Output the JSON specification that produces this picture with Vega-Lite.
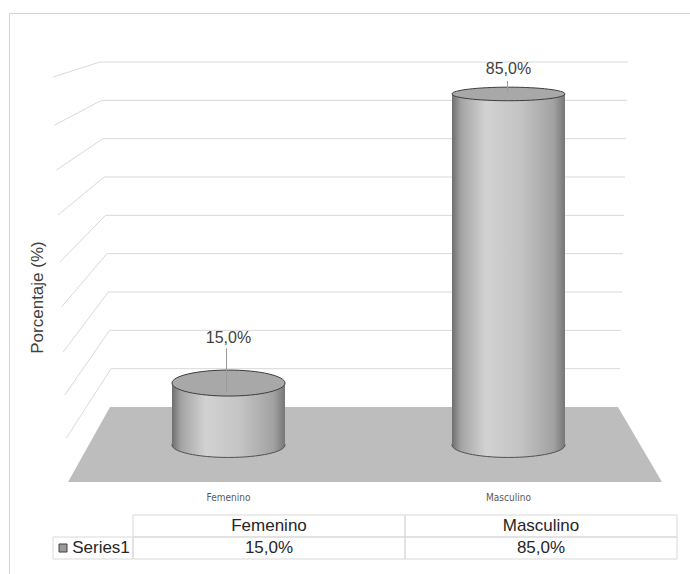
{
  "$schema": "https://vega.github.io/schema/vega-lite/v6.json",
  "width": 681,
  "height": 561,
  "autosize": {"type": "none"},
  "padding": {"left": 9, "top": 13, "right": 0, "bottom": 0},
  "background": "white",
  "config": {
    "view": {"stroke": "#d4d4d4"},
    "font": "Liberation Sans",
    "locale": {"number": {"decimal": ",", "thousands": ".", "grouping": [3], "currency": ["", " €"]}}
  },
  "datasets": {
    "main": [
      {"cat": "Femenino", "value": 0.15},
      {"cat": "Masculino", "value": 0.85}
    ],
    "grid": [
      {"x": 0.5446, "x2": 2.4304, "y": 0.9, "y2": 0.9},
      {"x": 0.3768, "x2": 0.5446, "y": 0.8609, "y2": 0.9},
      {"x": 0.5496, "x2": 2.4268, "y": 0.8, "y2": 0.8},
      {"x": 0.3832, "x2": 0.5496, "y": 0.7357, "y2": 0.8},
      {"x": 0.5546, "x2": 2.4232, "y": 0.7, "y2": 0.7},
      {"x": 0.3889, "x2": 0.5546, "y": 0.6183, "y2": 0.7},
      {"x": 0.5593, "x2": 2.4196, "y": 0.6, "y2": 0.6},
      {"x": 0.3950, "x2": 0.5593, "y": 0.5009, "y2": 0.6},
      {"x": 0.5643, "x2": 2.4161, "y": 0.5, "y2": 0.5},
      {"x": 0.4014, "x2": 0.5643, "y": 0.3783, "y2": 0.5},
      {"x": 0.5693, "x2": 2.4125, "y": 0.4, "y2": 0.4},
      {"x": 0.4071, "x2": 0.5693, "y": 0.2609, "y2": 0.4},
      {"x": 0.5743, "x2": 2.4089, "y": 0.3, "y2": 0.3},
      {"x": 0.4132, "x2": 0.5743, "y": 0.1435, "y2": 0.3},
      {"x": 0.5789, "x2": 2.4054, "y": 0.2, "y2": 0.2},
      {"x": 0.4189, "x2": 0.5789, "y": 0.0313, "y2": 0.2},
      {"x": 0.5839, "x2": 2.4018, "y": 0.1, "y2": 0.1},
      {"x": 0.4246, "x2": 0.5839, "y": -0.0809, "y2": 0.1}
    ],
    "floor": [
      {"x": 0.4304, "y": -0.1957, "y2": -0.1957},
      {"x": 0.5804, "y": 0, "y2": -0.1957},
      {"x": 2.3946, "y": 0, "y2": -0.1957},
      {"x": 2.5518, "y": -0.1957, "y2": -0.1957}
    ]
  },
  "resolve": {"scale": {"x": "independent", "y": "independent", "shape": "independent"}, "axis": {"x": "independent", "y": "independent"}},
  "layer": [
    {
      "data": {"name": "grid"},
      "mark": {"type": "rule", "color": "#d9d9d9", "strokeWidth": 1},
      "encoding": {
        "x": {"field": "x", "type": "quantitative", "scale": {"domain": [0.2196, 2.6518], "nice": false, "zero": false}, "axis": null},
        "x2": {"field": "x2"},
        "y": {"field": "y", "type": "quantitative", "scale": {"domain": [-0.4357, 1.0279], "nice": false, "zero": false},
          "axis": {"orient": "left", "title": "Porcentaje (%)", "labels": false, "ticks": false, "domain": true, "domainOpacity": 0, "grid": false,
            "titleX": 28, "titleY": 284, "titleAngle": -90, "titleBaseline": "middle", "titleAlign": "center",
            "titleFontSize": 17, "titleFontWeight": "normal", "titleColor": "#404040", "titleFont": "Liberation Sans"}},
        "y2": {"field": "y2"}
      }
    },
    {
      "data": {"name": "floor"},
      "mark": {"type": "area", "color": "#bdbdbd", "opacity": 1},
      "encoding": {
        "x": {"field": "x", "type": "quantitative", "scale": {"domain": [0.2196, 2.6518], "nice": false, "zero": false}, "axis": null},
        "y": {"field": "y", "type": "quantitative", "scale": {"domain": [-0.4357, 1.0279], "nice": false, "zero": false}, "axis": null},
        "y2": {"field": "y2"}
      }
    },
    {
      "data": {"name": "main"},
      "mark": {"type": "point", "shape": "M -1 0 C -1 -0.1215 -0.5523 -0.22 0 -0.22 C 0.5523 -0.22 1 -0.1215 1 0 C 1 0.1215 0.5523 0.22 0 0.22 C -0.5523 0.22 -1 0.1215 -1 0 Z",
        "size": 12769, "filled": true, "opacity": 1, "stroke": "#505050", "strokeWidth": 1,
        "fill": {"gradient": "linear", "x1": 0, "y1": 0, "x2": 1, "y2": 0,
          "stops": [{"offset": 0, "color": "#6e6e6e"}, {"offset": 0.08, "color": "#a4a4a4"}, {"offset": 0.3, "color": "#d2d2d2"}, {"offset": 0.6, "color": "#c4c4c4"}, {"offset": 0.9, "color": "#a2a2a2"}, {"offset": 1, "color": "#767676"}]}},
      "encoding": {
        "x": {"field": "cat", "type": "nominal",
          "scale": {"type": "band", "domain": ["Femenino", "Masculino"], "range": [163, 556], "paddingInner": 0.5964, "paddingOuter": 0},
          "axis": {"title": null, "orient": "bottom", "offset": -77, "domain": false, "ticks": false, "tickSize": 0, "grid": false,
            "labelPadding": 0, "labelBaseline": "middle", "labelAngle": 0, "labelFont": "'Liberation Sans Narrow', 'DejaVu Sans Condensed', 'Liberation Sans', sans-serif", "labelFontSize": 10, "labelColor": "#595959"}},
        "y": {"datum": 0, "type": "quantitative", "scale": {"domain": [-0.3123, 1.046], "nice": false, "zero": false}, "axis": null}
      }
    },
    {
      "data": {"name": "main"},
      "mark": {"type": "bar", "opacity": 1,
        "fill": {"gradient": "linear", "x1": 0, "y1": 0, "x2": 1, "y2": 0,
          "stops": [{"offset": 0, "color": "#6e6e6e"}, {"offset": 0.08, "color": "#a4a4a4"}, {"offset": 0.3, "color": "#d2d2d2"}, {"offset": 0.6, "color": "#c4c4c4"}, {"offset": 0.9, "color": "#a2a2a2"}, {"offset": 1, "color": "#767676"}]}},
      "encoding": {
        "x": {"field": "cat", "type": "nominal", "scale": {"type": "band", "domain": ["Femenino", "Masculino"], "range": [163, 556], "paddingInner": 0.5964, "paddingOuter": 0}, "axis": null},
        "y": {"field": "value", "type": "quantitative", "scale": {"domain": [-0.3123, 1.046], "nice": false, "zero": false}, "axis": null},
        "y2": {"datum": 0}
      }
    },
    {
      "data": {"name": "main"},
      "mark": {"type": "point", "size": 12769, "filled": true, "opacity": 1, "fill": "#a8a8a8", "stroke": "#3c3c3c", "strokeWidth": 1},
      "encoding": {
        "x": {"field": "cat", "type": "nominal", "scale": {"type": "band", "domain": ["Femenino", "Masculino"], "range": [163, 556], "paddingInner": 0.5964, "paddingOuter": 0}, "axis": null},
        "y": {"field": "value", "type": "quantitative", "scale": {"domain": [-0.3123, 1.046], "nice": false, "zero": false}, "axis": null},
        "shape": {"field": "cat", "type": "nominal", "legend": null,
          "scale": {"domain": ["Femenino", "Masculino"], "range": [
            "M -1 0 C -1 -0.127 -0.5523 -0.23 0 -0.23 C 0.5523 -0.23 1 -0.127 1 0 C 1 0.127 0.5523 0.23 0 0.23 C -0.5523 0.23 -1 0.127 -1 0 Z",
            "M -1 0 C -1 -0.0663 -0.5523 -0.12 0 -0.12 C 0.5523 -0.12 1 -0.0663 1 0 C 1 0.0663 0.5523 0.12 0 0.12 C -0.5523 0.12 -1 0.0663 -1 0 Z"]}}
      }
    },
    {
      "data": {"name": "main"},
      "transform": [{"filter": "datum.cat == 'Femenino'"}],
      "mark": {"type": "rule", "color": "#9a9a9a", "strokeWidth": 1, "yOffset": -35, "y2Offset": 9, "xOffset": -2},
      "encoding": {
        "x": {"field": "cat", "type": "nominal", "scale": {"type": "band", "domain": ["Femenino", "Masculino"], "range": [163, 556], "paddingInner": 0.5964, "paddingOuter": 0}, "axis": null},
        "y": {"field": "value", "type": "quantitative", "scale": {"domain": [-0.3123, 1.046], "nice": false, "zero": false}, "axis": null},
        "y2": {"field": "value"}
      }
    },
    {
      "data": {"name": "main"},
      "transform": [{"filter": "datum.cat == 'Femenino'"}],
      "mark": {"type": "text", "fontSize": 16, "color": "#404040", "baseline": "middle", "dy": -45},
      "encoding": {
        "x": {"field": "cat", "type": "nominal", "scale": {"type": "band", "domain": ["Femenino", "Masculino"], "range": [163, 556], "paddingInner": 0.5964, "paddingOuter": 0}, "axis": null},
        "y": {"field": "value", "type": "quantitative", "scale": {"domain": [-0.3123, 1.046], "nice": false, "zero": false}, "axis": null},
        "text": {"field": "value", "type": "quantitative", "format": ".1%"}
      }
    },
    {
      "data": {"name": "main"},
      "transform": [{"filter": "datum.cat == 'Masculino'"}],
      "mark": {"type": "rule", "color": "#9a9a9a", "strokeWidth": 1, "yOffset": -13, "y2Offset": -2, "xOffset": -1},
      "encoding": {
        "x": {"field": "cat", "type": "nominal", "scale": {"type": "band", "domain": ["Femenino", "Masculino"], "range": [163, 556], "paddingInner": 0.5964, "paddingOuter": 0}, "axis": null},
        "y": {"field": "value", "type": "quantitative", "scale": {"domain": [-0.3123, 1.046], "nice": false, "zero": false}, "axis": null},
        "y2": {"field": "value"}
      }
    },
    {
      "data": {"name": "main"},
      "transform": [{"filter": "datum.cat == 'Masculino'"}],
      "mark": {"type": "text", "fontSize": 16, "color": "#404040", "baseline": "middle", "dy": -25},
      "encoding": {
        "x": {"field": "cat", "type": "nominal", "scale": {"type": "band", "domain": ["Femenino", "Masculino"], "range": [163, 556], "paddingInner": 0.5964, "paddingOuter": 0}, "axis": null},
        "y": {"field": "value", "type": "quantitative", "scale": {"domain": [-0.3123, 1.046], "nice": false, "zero": false}, "axis": null},
        "text": {"field": "value", "type": "quantitative", "format": ".1%"}
      }
    },
    {
      "data": {"name": "main"},
      "mark": {"type": "rect", "fill": "transparent", "stroke": "#d9d9d9", "strokeWidth": 1},
      "encoding": {
        "x": {"field": "cat", "type": "nominal", "scale": {"type": "band", "domain": ["Femenino", "Masculino"], "range": [124, 668], "paddingInner": 0, "paddingOuter": 0}, "axis": null},
        "y": {"datum": "header", "type": "nominal", "scale": {"type": "band", "domain": ["header", "values"], "range": [502, 546], "paddingInner": 0, "paddingOuter": 0}, "axis": null}
      }
    },
    {
      "data": {"name": "main"},
      "mark": {"type": "rect", "fill": "transparent", "stroke": "#d9d9d9", "strokeWidth": 1},
      "encoding": {
        "x": {"field": "cat", "type": "nominal", "scale": {"type": "band", "domain": ["Femenino", "Masculino"], "range": [124, 668], "paddingInner": 0, "paddingOuter": 0}, "axis": null},
        "y": {"datum": "values", "type": "nominal", "scale": {"type": "band", "domain": ["header", "values"], "range": [502, 546], "paddingInner": 0, "paddingOuter": 0}, "axis": null}
      }
    },
    {
      "data": {"name": "main"},
      "mark": {"type": "text", "fontSize": 17, "color": "#262626", "baseline": "middle"},
      "encoding": {
        "x": {"field": "cat", "type": "nominal", "scale": {"type": "band", "domain": ["Femenino", "Masculino"], "range": [124, 668], "paddingInner": 0, "paddingOuter": 0}, "axis": null},
        "y": {"datum": "header", "type": "nominal", "scale": {"type": "band", "domain": ["header", "values"], "range": [502, 546], "paddingInner": 0, "paddingOuter": 0}, "axis": null},
        "text": {"field": "cat", "type": "nominal"}
      }
    },
    {
      "data": {"name": "main"},
      "mark": {"type": "text", "fontSize": 17, "color": "#262626", "baseline": "middle"},
      "encoding": {
        "x": {"field": "cat", "type": "nominal", "scale": {"type": "band", "domain": ["Femenino", "Masculino"], "range": [124, 668], "paddingInner": 0, "paddingOuter": 0}, "axis": null},
        "y": {"datum": "values", "type": "nominal", "scale": {"type": "band", "domain": ["header", "values"], "range": [502, 546], "paddingInner": 0, "paddingOuter": 0}, "axis": null},
        "text": {"field": "value", "type": "quantitative", "format": ".1%"}
      }
    },
    {
      "data": {"name": "main"},
      "transform": [{"filter": "datum.cat == 'Femenino'"}],
      "mark": {"type": "point", "shape": "M -1 -0.275 L 1 -0.275 L 1 0.275 L -1 0.275 Z", "size": 6400, "filled": false, "opacity": 1, "stroke": "#d9d9d9", "strokeWidth": 1, "xOffset": -176},
      "encoding": {
        "x": {"field": "cat", "type": "nominal", "scale": {"type": "band", "domain": ["Femenino", "Masculino"], "range": [124, 668], "paddingInner": 0, "paddingOuter": 0}, "axis": null},
        "y": {"datum": "values", "type": "nominal", "scale": {"type": "band", "domain": ["header", "values"], "range": [502, 546], "paddingInner": 0, "paddingOuter": 0}, "axis": null}
      }
    },
    {
      "data": {"name": "main"},
      "transform": [{"filter": "datum.cat == 'Femenino'"}],
      "mark": {"type": "text", "fontSize": 17, "color": "#262626", "baseline": "middle", "dx": -168},
      "encoding": {
        "x": {"field": "cat", "type": "nominal", "scale": {"type": "band", "domain": ["Femenino", "Masculino"], "range": [124, 668], "paddingInner": 0, "paddingOuter": 0}, "axis": null},
        "y": {"datum": "values", "type": "nominal", "scale": {"type": "band", "domain": ["header", "values"], "range": [502, 546], "paddingInner": 0, "paddingOuter": 0}, "axis": null},
        "text": {"value": "Series1"}
      }
    },
    {
      "data": {"name": "main"},
      "transform": [{"filter": "datum.cat == 'Femenino'"}],
      "mark": {"type": "point", "shape": "square", "size": 64, "filled": true, "opacity": 1, "fill": "#9a9a9a", "stroke": "#404040", "strokeWidth": 1, "xOffset": -206},
      "encoding": {
        "x": {"field": "cat", "type": "nominal", "scale": {"type": "band", "domain": ["Femenino", "Masculino"], "range": [124, 668], "paddingInner": 0, "paddingOuter": 0}, "axis": null},
        "y": {"datum": "values", "type": "nominal", "scale": {"type": "band", "domain": ["header", "values"], "range": [502, 546], "paddingInner": 0, "paddingOuter": 0}, "axis": null}
      }
    }
  ]
}
